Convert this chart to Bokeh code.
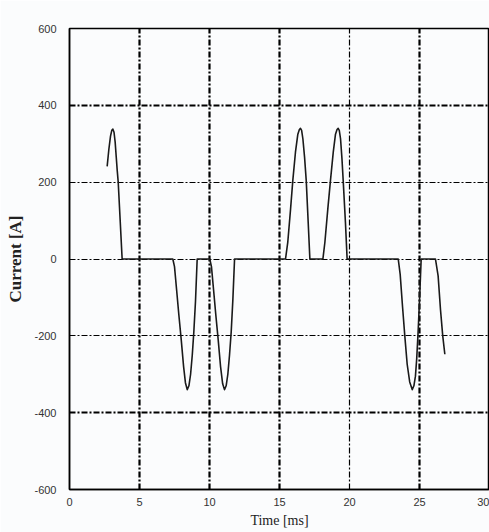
from bokeh.plotting import figure
from bokeh.models import Range1d, FixedTicker, Grid
from bokeh.embed import file_html
from bokeh.resources import INLINE

# Sampled current waveform (time in ms, current in A)
time_ms = [
    2.69, 2.81, 2.93, 3.02, 3.10, 3.18, 3.26, 3.34, 3.41, 3.48, 3.62, 3.76,
    7.38, 7.50, 7.65, 7.81, 7.98, 8.15, 8.28, 8.41, 8.53, 8.65, 8.77, 8.88, 9.00, 9.12,
    10.02, 10.14, 10.29, 10.45, 10.62, 10.79, 10.94, 11.07, 11.19, 11.31, 11.43, 11.55, 11.67, 11.79,
    15.43, 15.59, 15.79, 15.95, 16.14, 16.31, 16.42, 16.50, 16.58, 16.67, 16.79, 16.91, 17.05, 17.17,
    18.10, 18.24, 18.45, 18.64, 18.84, 19.00, 19.11, 19.19, 19.27, 19.36, 19.46, 19.55, 19.71, 19.83,
    23.48, 23.62, 23.79, 23.95, 24.12, 24.30, 24.48, 24.60, 24.71, 24.80, 24.90, 25.01, 25.12,
    26.14, 26.33, 26.50, 26.66, 26.81,
]
current_a = [
    241, 285, 320, 335, 338, 330, 305, 265, 230, 200, 100, 0,
    0, -20, -80, -145, -210, -280, -322, -340, -330, -300, -250, -190, -110, 0,
    0, -20, -80, -145, -210, -280, -325, -340, -330, -300, -250, -190, -105, 0,
    0, 43, 130, 204, 278, 325, 337, 340, 335, 313, 265, 204, 95, 0,
    0, 43, 130, 204, 278, 325, 337, 340, 335, 313, 262, 204, 95, 0,
    0, -40, -125, -200, -274, -320, -340, -330, -305, -260, -190, -100, 0,
    0, -44, -132, -200, -248,
]

x_ticks = [0, 5, 10, 15, 20, 25, 30]
y_ticks = [-600, -400, -200, 0, 200, 400, 600]

BG = "#fbfcfd"
tick_font = "'Liberation Sans Narrow', 'Arial Narrow', 'Liberation Sans', sans-serif"

p = figure(
    width=489, height=532,
    output_backend="svg", toolbar_location=None,
    x_range=Range1d(0, 30), y_range=Range1d(-600, 600),
    min_border_left=69, min_border_right=0, min_border_top=28, min_border_bottom=43,
    background_fill_color=BG, border_fill_color=BG,
    outline_line_color="black", outline_line_width=1.5,
)

# axes
for ax, ticks in ((p.xaxis[0], x_ticks), (p.yaxis[0], y_ticks)):
    ax.ticker = FixedTicker(ticks=ticks)
    ax.major_label_overrides = {t: str(t) for t in ticks}
    ax.axis_line_color = "black"
    ax.axis_line_width = 1.5
    ax.major_tick_line_color = None
    ax.minor_tick_line_color = None
    ax.major_label_text_font = tick_font
    ax.major_label_text_font_size = "11px"
    ax.major_label_text_color = "#333333"
    ax.axis_label_text_font = "Liberation Serif"
    ax.axis_label_text_color = "#222222"

p.xaxis.major_label_standoff = 2
p.xaxis.axis_label = "Time [ms]"
p.xaxis.axis_label_text_font_size = "14px"
p.xaxis.axis_label_text_font_style = "normal"
p.xaxis.axis_label_standoff = 4

p.yaxis.major_label_standoff = 7
p.yaxis.axis_label = "Current [A]"
p.yaxis.axis_label_text_font_size = "17px"
p.yaxis.axis_label_text_font_style = "bold"
p.yaxis.axis_label_standoff = 6

# dash-dot grid, heavier on some lines
p.xgrid.ticker = FixedTicker(ticks=[20])
p.ygrid.ticker = FixedTicker(ticks=[-200, 0, 200])
for g in (p.xgrid[0], p.ygrid[0]):
    g.grid_line_color = "black"
    g.grid_line_width = 1.2
    g.grid_line_dash = "6 2 2 2"

p.add_layout(Grid(dimension=0, ticker=FixedTicker(ticks=[5, 10, 15, 25]),
                  grid_line_color="black", grid_line_width=2.2, grid_line_dash="6 2 2 2"))
p.add_layout(Grid(dimension=1, ticker=FixedTicker(ticks=[-400, 400]),
                  grid_line_color="black", grid_line_width=2.2, grid_line_dash="6 2 2 2"))

p.line(time_ms, current_a, line_color="#1a1a1a", line_width=1.6, line_join="round")

open("out.html", "w").write(file_html(p, INLINE))
